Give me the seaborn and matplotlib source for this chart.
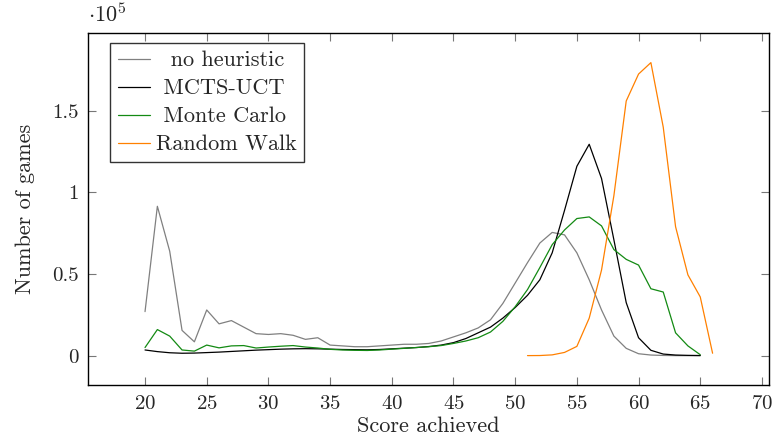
import numpy as np
import pandas as pd
import seaborn as sns
import matplotlib.pyplot as plt
from matplotlib.ticker import FuncFormatter

# Значения (количество партий по набранным очкам)
scores = list(range(20, 66))
no_heuristic = [27000, 91500, 64000, 15500, 8500, 28000, 19500, 21500, 17500, 13500,
                13000, 13500, 12500, 10000, 11000, 6500, 6000, 5500, 5500, 6000,
                6500, 7000, 7000, 7500, 9000, 11500, 14000, 17000, 22000, 32000,
                44500, 57000, 69000, 75500, 74000, 63000, 46500, 28000, 12000, 4500,
                1200, 400, 150, 50, 20, 10]
mcts_uct = [3500, 2500, 1800, 1500, 1600, 1900, 2200, 2600, 3000, 3400,
            3700, 4000, 4200, 4300, 4200, 4000, 3800, 3700, 3600, 3800,
            4200, 4600, 5000, 5600, 6500, 8000, 10500, 14000, 17500, 23000,
            29500, 37000, 46500, 63000, 89000, 116000, 129500, 108500, 71000, 32500,
            11000, 3300, 1000, 400, 200, 100]
monte_carlo = [5000, 16000, 12000, 3500, 2800, 6500, 4800, 6000, 6200, 4700,
               5300, 5800, 6200, 5300, 4700, 3900, 3500, 3300, 3200, 3500,
               4000, 4500, 5000, 5500, 6200, 7500, 9000, 11000, 14500, 21000,
               30000, 40500, 54000, 68000, 77000, 84000, 85000, 79500, 65000, 59000,
               55500, 41000, 39000, 14000, 6000, 600]
rw_scores = list(range(51, 67))
random_walk = [50, 100, 500, 2000, 5700, 23000, 52500, 98000, 156000, 172500,
               179500, 140000, 79000, 49500, 36000, 1500]

names = ['no heuristic', 'MCTS-UCT', 'Monte Carlo', 'Random Walk']
colors = {'no heuristic': '#808080', 'MCTS-UCT': '#000000',
          'Monte Carlo': '#138a13', 'Random Walk': '#ff8000'}

# Сборка длинной таблицы для seaborn
frames = []
for name, xs, ys in [(names[0], scores, no_heuristic), (names[1], scores, mcts_uct),
                     (names[2], scores, monte_carlo), (names[3], rw_scores, random_walk)]:
    frames.append(pd.DataFrame({'score': xs, 'games': ys, 'method': name}))
df = pd.concat(frames, ignore_index=True)

sns.set_style('ticks')
plt.rcParams['font.family'] = ['cmr10', 'DejaVu Serif']
plt.rcParams['mathtext.fontset'] = 'cm'
plt.rcParams['axes.formatter.use_mathtext'] = True

fig = plt.figure(figsize=(7.75, 4.4), dpi=100)
ax = fig.add_axes([0.1139, 0.125, 0.8788, 0.7993])

sns.lineplot(data=df, x='score', y='games', hue='method', hue_order=names,
             palette=colors, linewidth=0.9, estimator=None, sort=False, ax=ax)

ax.set_xlim(15.4, 70.6)
ymax = df['games'].max()
ax.set_ylim(-0.1 * ymax, 1.1 * ymax)
ax.set_xticks(range(20, 71, 5))
ax.set_yticks([0, 50000, 100000, 150000])
ax.yaxis.set_major_formatter(FuncFormatter(lambda v, p: f'{v / 1e5:g}'))
ax.tick_params(direction='in', top=True, right=True, length=6, width=0.8,
               color='#777777', labelsize=15, pad=7)
for s in ax.spines.values():
    s.set_linewidth(1.0)
    s.set_color('black')

ax.set_xlabel('Score achieved', fontsize=16, labelpad=3)
ax.set_ylabel('Number of games', fontsize=16, labelpad=12)
ax.text(0.0, 1.02, r'$\cdot 10^5$', transform=ax.transAxes, fontsize=16,
        ha='left', va='bottom')

leg = ax.legend(loc='upper left', bbox_to_anchor=(0.032, 0.972), borderaxespad=0,
                fontsize=16, frameon=True, fancybox=False, edgecolor='black',
                handlelength=1.45, handletextpad=0.25, labelspacing=0.38,
                borderpad=0.35)
leg.get_frame().set_linewidth(1.0)
for line in leg.get_lines():
    line.set_linewidth(0.9)
# в оригинале подписи легенды выровнены по центру — подгоняем пробелами
for t, pad in zip(leg.get_texts(), ['  ', ' ', ' ', '']):
    t.set_text(pad + t.get_text())

fig.savefig('out.png', dpi=100)
